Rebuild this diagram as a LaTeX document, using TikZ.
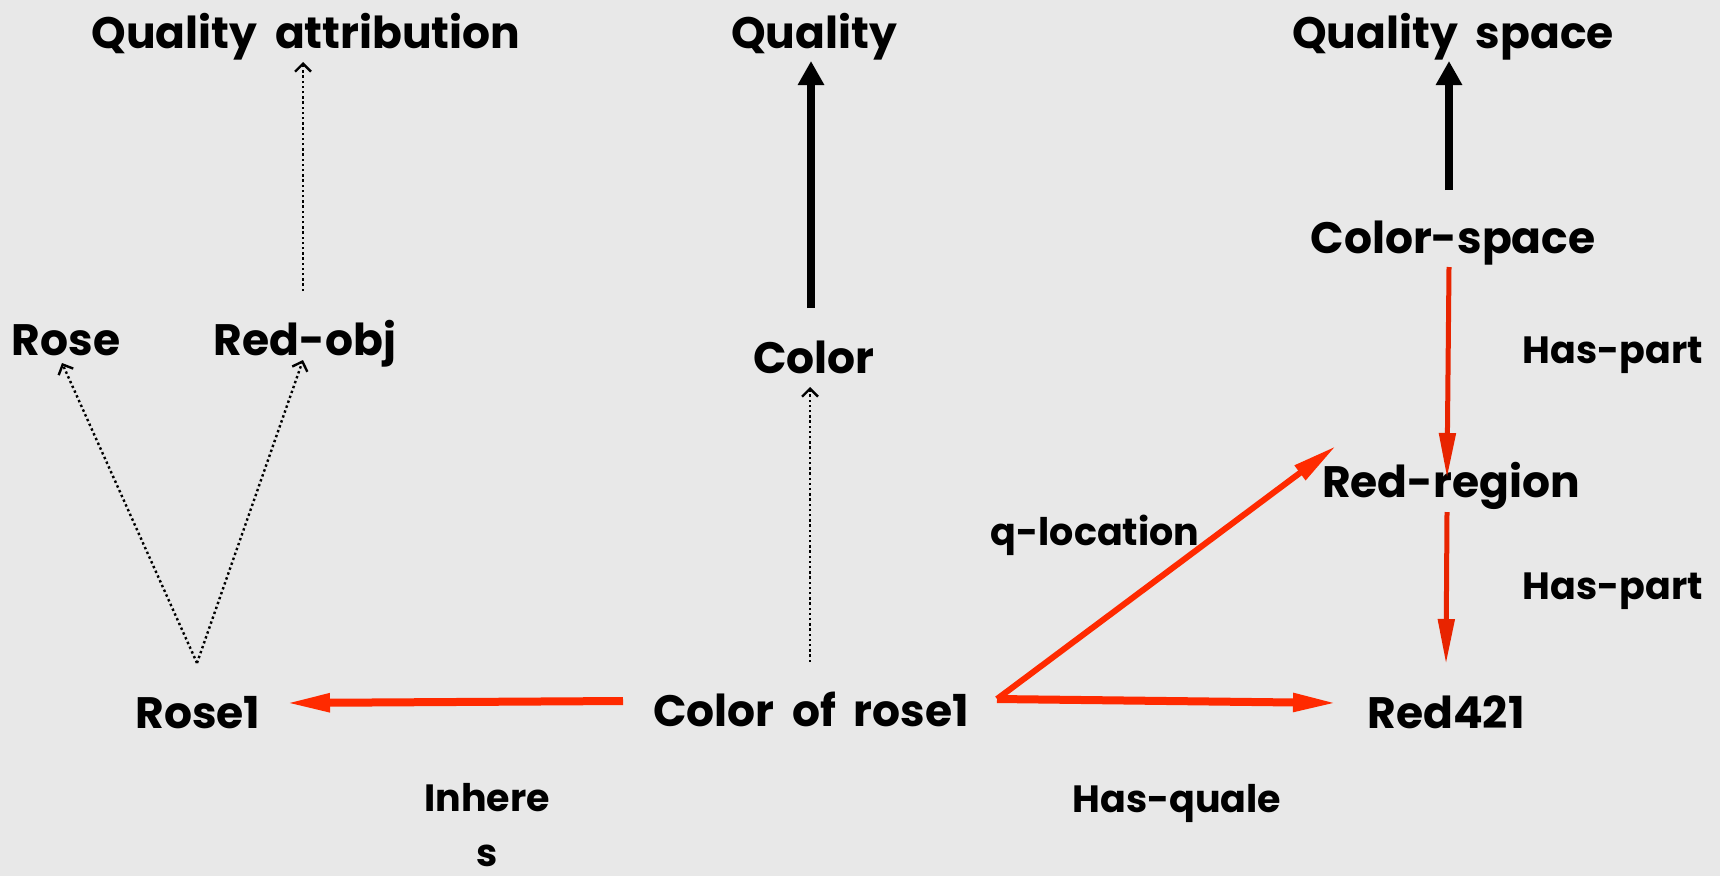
\documentclass[tikz,border=0pt]{standalone}
\usepackage{fontspec}
\setmainfont{Poppins}[WordSpace=1.9]
\usetikzlibrary{arrows.meta}
\definecolor{bg}{RGB}{232,232,232}
\definecolor{redA}{RGB}{255,42,0}
\definecolor{redB}{RGB}{232,36,0}
\tikzset{
  lbl/.style={font=\fontsize{44}{48}\selectfont\bfseries, inner sep=0pt, anchor=base},
  elbl/.style={font=\fontsize{38}{42}\selectfont\bfseries, inner sep=0pt, anchor=base},
  dotarrow/.style={line width=2.4pt, dash pattern=on 2.4pt off 2.8pt, -{Straight Barb[length=8pt,width=16pt,line width=2.4pt]}},
  blackarrow/.style={line width=8pt, -{Triangle[length=24pt,width=25pt]}},
  redh/.style={draw=redA, line width=8pt, -{Triangle[length=45pt,width=17pt]}, color=redA},
  redd/.style={draw=redA, line width=6pt, -{Triangle[length=45pt,width=17pt]}, color=redA},
  redv/.style={draw=redB, line width=5pt, -{Triangle[length=45pt,width=16pt]}, color=redB},
}
\begin{document}
\begin{tikzpicture}[x=1pt,y=-1pt]
\fill[bg] (0,0) rectangle (1720,876);
\useasboundingbox (0,0) rectangle (1720,876);
% nodes (base positions)
\node[lbl] (qattr) at (306,48) {Quality attribution};
\node[lbl] (quality) at (814,48) {Quality};
\node[lbl] (qspace) at (1453,48) {Quality space};
\node[lbl] (rose) at (66,355) {Rose};
\node[lbl] (redobj) at (305,355) {Red-obj};
\node[lbl] (color) at (814,373) {Color};
\node[lbl] (cspace) at (1453,253) {Color-space};
\node[lbl] (redregion) at (1451,497) {Red-region};
\node[lbl] (rose1) at (198,728) {Rose1};
\node[lbl] (crose) at (811,726) {Color of rose1};
\node[lbl] (red421) at (1446,728) {Red421};
\node[elbl] (hp1) at (1613,363) {Has-part};
\node[elbl] (hp2) at (1613,599) {Has-part};
\node[elbl] (qloc) at (1095,545) {q-location};
\node[elbl] (inh1) at (487,811) {Inhere};
\node[elbl] (inh2) at (487,866) {s};
\node[elbl] (hq) at (1177,812) {Has-quale};
% connector end points
\coordinate (a1) at (303,291); \coordinate (a2) at (303,62);
\coordinate (b1) at (811,308); \coordinate (b2) at (811,61);
\coordinate (c1) at (1449,190); \coordinate (c2) at (1449,61);
\coordinate (v) at (197,663);
\coordinate (vr) at (62,363); \coordinate (vo) at (303,360);
\coordinate (d1) at (810,662); \coordinate (d2) at (810,387);
\coordinate (e1) at (623,701); \coordinate (e2) at (285,703);
\coordinate (f1) at (997,699); \coordinate (f2) at (1338,703);
\coordinate (g2) at (1336,446);
\coordinate (h1) at (1449,267); \coordinate (h2) at (1447,478);
\coordinate (i1) at (1447,512); \coordinate (i2) at (1446,664);
% connectors
\draw[dotarrow] (a1) -- (a2);
\draw[blackarrow] (b1) -- (b2);
\draw[blackarrow] (c1) -- (c2);
\draw[dotarrow] (v) -- (vr);
\draw[dotarrow] (v) -- (vo);
\draw[dotarrow] (d1) -- (d2);
\draw[redh] (e1) -- (e2);
\draw[redh] (f1) -- (f2);
\draw[redd] (f1) -- (g2);
\draw[redv] (h1) -- (h2);
\draw[redv] (i1) -- (i2);
\end{tikzpicture}
\end{document}
